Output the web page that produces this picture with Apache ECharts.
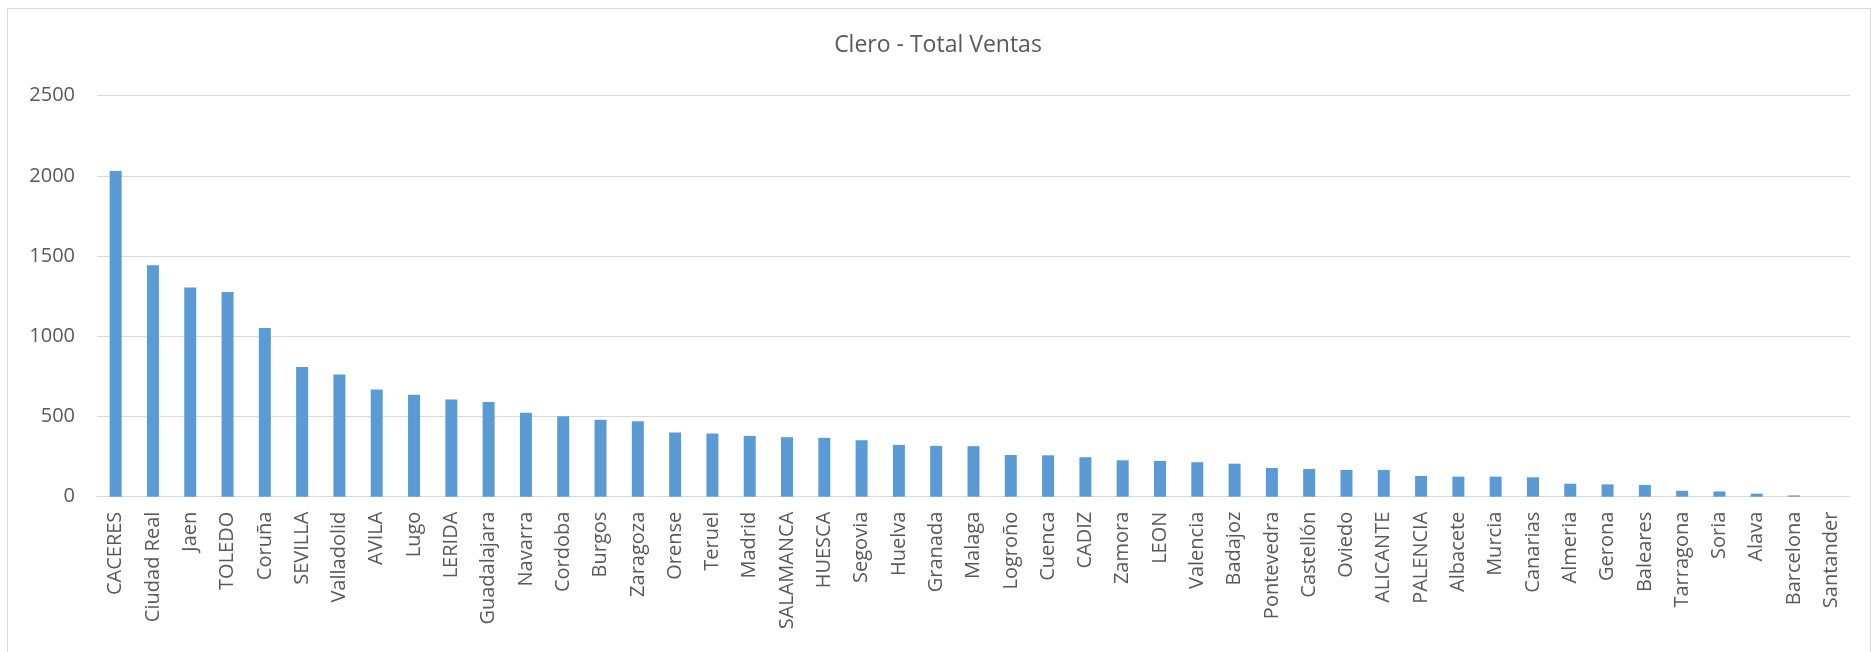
<!DOCTYPE html>
<html>
<head>
<meta charset="utf-8">
<script src="https://cdn.jsdelivr.net/npm/echarts@6/dist/echarts.min.js"></script>
<style>
html,body{margin:0;padding:0;background:#fff;}
#chart{width:1876px;height:652px;}
</style>
</head>
<body>
<div id="chart"></div>
<script>
const titleText = 'Clero - Total Ventas';
const categories = ['CACERES','Ciudad Real','Jaen','TOLEDO','Coruña','SEVILLA','Valladolid','AVILA','Lugo','LERIDA','Guadalajara','Navarra','Cordoba','Burgos','Zaragoza','Orense','Teruel','Madrid','SALAMANCA','HUESCA','Segovia','Huelva','Granada','Malaga','Logroño','Cuenca','CADIZ','Zamora','LEON','Valencia','Badajoz','Pontevedra','Castellón','Oviedo','ALICANTE','PALENCIA','Albacete','Murcia','Canarias','Almeria','Gerona','Baleares','Tarragona','Soria','Alava','Barcelona','Santander'];
const ventas = [2030,1443,1305,1276,1051,809,762,669,635,606,590,523,501,480,470,401,394,379,371,367,352,323,317,315,260,258,246,227,223,215,206,179,173,167,167,129,125,125,121,81,77,73,37,33,19,8,0];
const yMin = 0, yMax = 2500, yStep = 500;

const chart = echarts.init(document.getElementById('chart'), null, {renderer:'canvas'});
chart.setOption({
  backgroundColor:'#ffffff',
  animation:false,
  title:{
    text:titleText,
    left:'center', top:29,
    textStyle:{fontFamily:'Open Sans', fontSize:23, fontWeight:'normal', color:'#595959'}
  },
  graphic:[{
    type:'rect', shape:{x:7.5,y:8.5,width:1863,height:660}, silent:true,
    style:{fill:'none', stroke:'#d9d9d9', lineWidth:1}, z:-1
  }],
  grid:{left:97, right:26, top:95.7, bottom:155.3, containLabel:false},
  xAxis:{
    type:'category', data:categories,
    axisLine:{show:true, lineStyle:{color:'#d9d9d9', width:1}},
    axisTick:{show:false},
    axisLabel:{rotate:90, interval:0, margin:15, color:'#595959', fontFamily:'Open Sans', fontSize:20}
  },
  yAxis:{
    type:'value', min:yMin, max:yMax, interval:yStep,
    axisLine:{show:false}, axisTick:{show:false},
    splitLine:{lineStyle:{color:'#d9d9d9', width:1}},
    axisLabel:{margin:22, color:'#595959', fontFamily:'Open Sans', fontSize:20,
      formatter:function(v){return String(v);}}
  },
  series:[{
    type:'bar', data:ventas, barWidth:12,
    itemStyle:{color:'#5b9bd5'}
  }]
});
</script>
</body>
</html>
